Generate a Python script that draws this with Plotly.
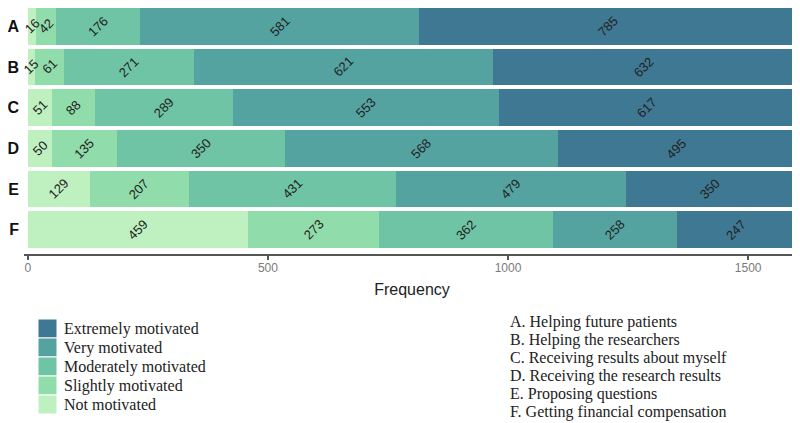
import plotly.graph_objects as go

categories = ["A", "B", "C", "D", "E", "F"]
levels = ["Not motivated", "Slightly motivated", "Moderately motivated",
          "Very motivated", "Extremely motivated"]
not_motivated = [16, 15, 51, 50, 129, 459]
slightly = [42, 61, 88, 135, 207, 273]
moderately = [176, 271, 289, 350, 431, 362]
very = [581, 621, 553, 568, 479, 258]
extremely = [785, 632, 617, 495, 350, 247]
series = [not_motivated, slightly, moderately, very, extremely]
colors = ["#bff0c0", "#91dcab", "#6fc4a5", "#54a3a1", "#3f7892"]
x_ticks = [0, 500, 1000, 1500]
descriptions = [
    "A. Helping future patients",
    "B. Helping the researchers",
    "C. Receiving results about myself",
    "D. Receiving the research results",
    "E. Proposing questions",
    "F. Getting financial compensation",
]

sans = "Liberation Sans, Arial"
fig = go.Figure()
for name, vals, col in zip(levels, series, colors):
    fig.add_trace(go.Bar(
        y=categories, x=vals, orientation="h", name=name,
        marker=dict(color=col, line=dict(width=0)),
        showlegend=False, hoverinfo="x+name",
    ))

# page is rendered with an 8px body margin: layout is in figure pixels
L, T, W, H = 16, 0, 776, 246


def px(x):
    return (x - L) / W


def py(y):
    return 1 - (y - T) / H


serif = dict(family="Liberation Serif, serif", size=16, color="#222222")
annotations = []
shapes = []

# segment value labels, drawn on top of all bars (centred in each segment)
for ci, cat in enumerate(categories):
    base = 0
    for vals in series:
        v = vals[ci]
        annotations.append(dict(
            text=str(v), x=base + v / 2, y=cat, xref="x", yref="y",
            showarrow=False, textangle=-45, xanchor="center", yanchor="middle",
            font=dict(family=sans, size=13, color="#222222"),
        ))
        base += v

for i, line in enumerate(descriptions):
    yc = 314 + i * 18
    annotations.append(dict(
        text=line, xref="paper", yref="paper", x=px(500), y=py(yc),
        xanchor="left", yanchor="middle", showarrow=False, font=serif,
    ))

# manual legend (top entry = Extremely motivated)
for i, (name, col) in enumerate(zip(levels[::-1], colors[::-1])):
    y0 = 311 + 19 * i
    shapes.append(dict(
        type="rect", xref="paper", yref="paper",
        x0=px(30), x1=px(49), y0=py(y0), y1=py(y0 + 19),
        fillcolor=col, line=dict(color="white", width=1), layer="above",
    ))
    annotations.append(dict(
        text=name, xref="paper", yref="paper", x=px(54), y=py(y0 + 9.5),
        xanchor="left", yanchor="middle", showarrow=False, font=serif,
    ))

fig.update_layout(
    width=800, height=423,
    margin=dict(l=L, r=800 - L - W, t=T, b=423 - T - H, autoexpand=False),
    barmode="stack", bargap=0.1,
    plot_bgcolor="white", paper_bgcolor="white",
    annotations=annotations, shapes=shapes, showlegend=False,
    xaxis=dict(
        range=[-8, 1608], tickvals=x_ticks, showgrid=False, zeroline=False,
        showline=True, linecolor="#555555", linewidth=2,
        ticks="outside", ticklen=4, tickcolor="#555555", tickwidth=1.5,
        ticklabelstandoff=-2,
        tickfont=dict(family=sans, size=12, color="#7a7a7a"),
        title=dict(text="Frequency", standoff=9,
                   font=dict(family=sans, size=16, color="#222222")),
    ),
    yaxis=dict(
        type="category", categoryorder="array", categoryarray=categories,
        range=[5.6, -0.45], showgrid=False, zeroline=False, showline=False,
        ticks="", ticklen=0, ticklabelstandoff=4,
        tickfont=dict(family=sans, size=16, color="#111111", weight="bold"),
    ),
)

fig.write_html("out.html")
